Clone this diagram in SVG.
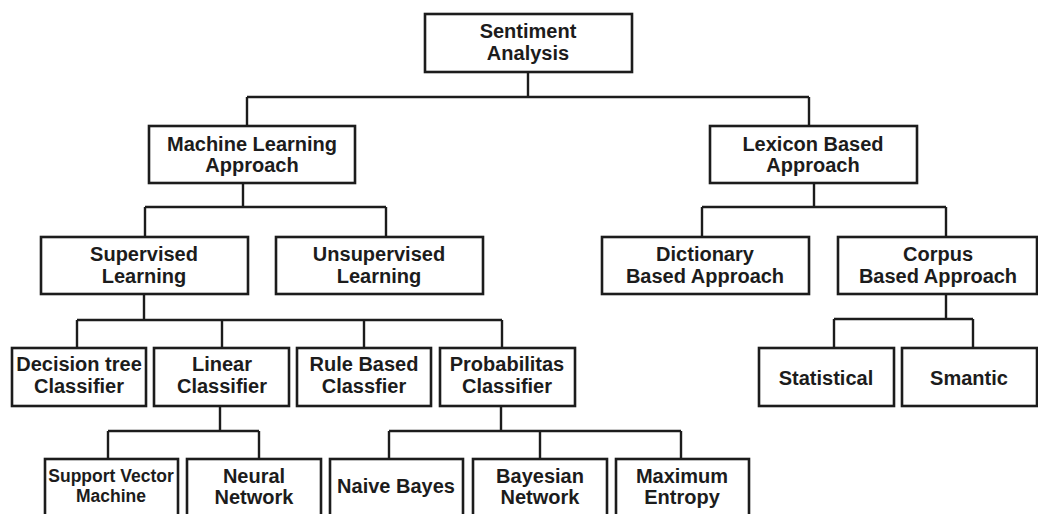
<svg xmlns="http://www.w3.org/2000/svg" width="1038" height="514" viewBox="0 0 1038 514">
<style>
.box{fill:#fff;stroke:#1c1c1c;stroke-width:2.6}
.c{fill:none;stroke:#1c1c1c;stroke-width:2.4}
text{font-family:"Liberation Sans",Arial,sans-serif;font-weight:bold;font-size:20px;fill:#1c1c1c;text-anchor:middle}
.s{font-size:17.5px}
</style>
<rect width="1038" height="514" fill="#fff"/>
<g id="connectors">
<path class="c" d="M528 72V97M247 97H809M247 97V126M809 97V126"/>
<path class="c" d="M243 183V207M145 207H386M145 207V237M386 207V237"/>
<path class="c" d="M814 183V207M702 207H946M702 207V237M946 207V237"/>
<path class="c" d="M144 294V320M77 320H502M77 320V348M222 320V348M364 320V348M502 320V348"/>
<path class="c" d="M946 294V319M834 319H973M834 319V348M973 319V348"/>
<path class="c" d="M220 406V431M108 431H259M108 431V459M259 431V459"/>
<path class="c" d="M501 406V431M389 431H681M389 431V459M540 431V459M681 431V459"/>
</g>
<g id="sentiment"><rect class="box" x="425" y="14" width="207" height="58"/><text x="528" y="38">Sentiment</text><text x="528" y="60">Analysis</text></g>
<g id="ml"><rect class="box" x="149" y="126" width="206" height="57"/><text x="252" y="151">Machine Learning</text><text x="252" y="172">Approach</text></g>
<g id="lexicon"><rect class="box" x="710" y="126" width="207" height="57"/><text x="813" y="151">Lexicon Based</text><text x="813" y="172">Approach</text></g>
<g id="supervised"><rect class="box" x="41" y="237" width="207" height="57"/><text x="144" y="261">Supervised</text><text x="144" y="283">Learning</text></g>
<g id="unsupervised"><rect class="box" x="276" y="237" width="207" height="57"/><text x="379" y="261">Unsupervised</text><text x="379" y="283">Learning</text></g>
<g id="dictionary"><rect class="box" x="602" y="237" width="207" height="57"/><text x="705" y="261">Dictionary</text><text x="705" y="283">Based Approach</text></g>
<g id="corpus"><rect class="box" x="838" y="237" width="199" height="57"/><text x="938" y="261">Corpus</text><text x="938" y="283">Based Approach</text></g>
<g id="decision"><rect class="box" x="12" y="348" width="134" height="58"/><text x="79" y="371">Decision tree</text><text x="79" y="393">Classifier</text></g>
<g id="linear"><rect class="box" x="154" y="348" width="135" height="58"/><text x="222" y="371">Linear</text><text x="222" y="393">Classifier</text></g>
<g id="rule"><rect class="box" x="297" y="348" width="134" height="58"/><text x="364" y="371">Rule Based</text><text x="364" y="393">Classfier</text></g>
<g id="probabilitas"><rect class="box" x="440" y="348" width="135" height="58"/><text x="507" y="371">Probabilitas</text><text x="507" y="393">Classifier</text></g>
<g id="statistical"><rect class="box" x="759" y="348" width="135" height="58"/><text x="826" y="385">Statistical</text></g>
<g id="smantic"><rect class="box" x="902" y="348" width="135" height="58"/><text x="969" y="385">Smantic</text></g>
<g id="svm"><rect class="box" x="45" y="459" width="133" height="70"/><text class="s" x="111" y="482">Support Vector</text><text class="s" x="111" y="502">Machine</text></g>
<g id="neural"><rect class="box" x="187" y="459" width="134" height="70"/><text x="254" y="483">Neural</text><text x="254" y="504">Network</text></g>
<g id="naive"><rect class="box" x="330" y="459" width="133" height="70"/><text x="396" y="493">Naive Bayes</text></g>
<g id="bayesian"><rect class="box" x="473" y="459" width="134" height="70"/><text x="540" y="483">Bayesian</text><text x="540" y="504">Network</text></g>
<g id="maxent"><rect class="box" x="616" y="459" width="133" height="70"/><text x="682" y="483">Maximum</text><text x="682" y="504">Entropy</text></g>
</svg>
